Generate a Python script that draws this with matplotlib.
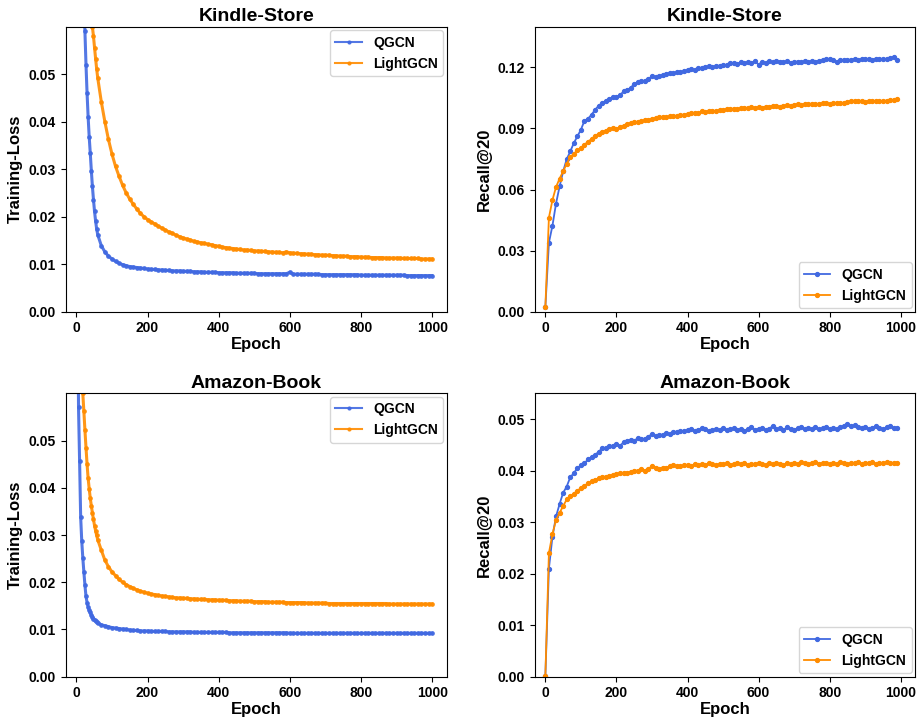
import numpy as np
import matplotlib
matplotlib.use("Agg")
import matplotlib.pyplot as plt

plt.rcParams["font.family"] = ["Liberation Sans", "DejaVu Sans"]
plt.rcParams["font.weight"] = "bold"
plt.rcParams["axes.labelweight"] = "bold"
plt.rcParams["axes.titleweight"] = "bold"

COLORS = {"QGCN": "#4169e1", "LightGCN": "#ff8c00"}

# ---------------------------------------------------------------------------
# Data
# ---------------------------------------------------------------------------

loss_epochs = np.r_[np.arange(0, 60, 3), np.arange(60, 1000, 10), 999]
recall_epochs = np.arange(0, 1000, 10)

kindle_loss_qgcn = [
    0.300, 0.220, 0.160, 0.125, 0.100, 0.085, 0.074, 0.066, 0.059, 0.052,
    0.046, 0.041, 0.0368, 0.0334, 0.0297, 0.0264, 0.0236, 0.0211, 0.0191, 0.0174,
    .0162, .0139, .0126, .0117, .0111, .0106, .0102, .0099, .0097, .0095,
    .0094, .0093, .0092, .0091, .0090, .0089, .0089, .0088, .0088, .0087,
    .0087, .0086, .0086, .0086, .0085, .0085, .0085, .0084, .0084, .0084,
    .0083, .0083, .0083, .0083, .0082, .0082, .0082, .0082, .0082, .0081,
    .0081, .0081, .0081, .0081, .0081, .0080, .0080, .0080, .0080, .0080,
    .0080, .0080, .0080, .0080, .0083, .0079, .0079, .0079, .0079, .0079,
    .0079, .0079, .0079, .0078, .0078, .0078, .0078, .0078, .0078, .0078,
    .0078, .0078, .0078, .0078, .0077, .0077, .0077, .0077, .0077, .0077,
    .0077, .0077, .0077, .0077, .0077, .0077, .0077, .0076, .0076, .0076,
    .0076, .0076, .0076, .0076, .0076,
]
kindle_loss_lightgcn = [
    0.250, 0.200, 0.165, 0.140, 0.120, 0.106, 0.096, 0.088, 0.082, 0.077,
    0.0725, 0.0690, 0.0660, 0.0635, 0.0615, 0.0600, 0.0580, 0.0556, 0.0533, 0.0511,
    .0492, .0442, .0400, .0363, .0332, .0306, .0285, .0266, .0250, .0237,
    .0226, .0216, .0207, .0200, .0194, .0189, .0185, .0180, .0176, .0172,
    .0168, .0165, .0161, .0158, .0155, .0153, .0151, .0148, .0147, .0145,
    .0144, .0142, .0141, .0139, .0138, .0136, .0135, .0134, .0133, .0132,
    .0131, .0130, .0130, .0129, .0128, .0128, .0127, .0127, .0126, .0126,
    .0125, .0125, .0124, .0126, .0124, .0123, .0123, .0122, .0122, .0121,
    .0121, .0120, .0120, .0119, .0119, .0119, .0118, .0118, .0117, .0117,
    .0117, .0116, .0116, .0116, .0115, .0115, .0115, .0114, .0114, .0114,
    .0114, .0113, .0113, .0113, .0113, .0113, .0112, .0112, .0112, .0112,
    .0112, .0111, .0111, .0111, .0111,
]
amazon_loss_qgcn = [
    0.200, 0.090, 0.057, 0.0457, 0.0338, 0.0288, 0.0252, 0.0222, 0.0194, 0.0170,
    0.0157, 0.0148, 0.0141, 0.0136, 0.0131, 0.0127, 0.0123, 0.0120, 0.0118, 0.0116,
    .0114, .0110, .0108, .0106, .0104, .0103, .0102, .0101, .0100, .0099,
    .0098, .0098, .0097, .0097, .0097, .0096, .0096, .0096, .0096, .0096,
    .0095, .0095, .0095, .0095, .0095, .0095, .0095, .0094, .0094, .0094,
    .0094, .0094, .0094, .0094, .0094, .0094, .0094, .0093, .0093, .0093,
    .0093, .0093, .0093, .0093, .0093, .0093, .0093, .0093, .0093, .0093,
    .0093, .0093, .0093, .0093, .0092, .0092, .0092, .0092, .0092, .0092,
    .0092, .0092, .0092, .0092, .0092, .0092, .0092, .0092, .0092, .0092,
    .0092, .0092, .0092, .0092, .0092, .0092, .0092, .0092, .0092, .0092,
    .0092, .0092, .0092, .0092, .0092, .0092, .0092, .0092, .0092, .0092,
    .0092, .0092, .0092, .0092, .0092,
]
amazon_loss_lightgcn = [
    0.300, 0.160, 0.110, 0.088, 0.075, 0.066, 0.0600, 0.0562, 0.0522, 0.0485,
    0.0450, 0.0420, 0.0398, 0.0378, 0.0362, 0.0347, 0.0333, 0.0320, 0.0309, 0.0299,
    .0290, .0268, .0247, .0233, .0222, .0214, .0206, .0200, .0195, .0191,
    .0187, .0184, .0181, .0179, .0177, .0175, .0174, .0172, .0171, .0170,
    .0169, .0168, .0167, .0167, .0166, .0166, .0165, .0165, .0164, .0164,
    .0164, .0163, .0163, .0163, .0162, .0162, .0162, .0161, .0161, .0161,
    .0160, .0160, .0160, .0160, .0159, .0159, .0159, .0159, .0158, .0158,
    .0158, .0158, .0158, .0157, .0157, .0157, .0157, .0157, .0157, .0156,
    .0156, .0156, .0156, .0156, .0156, .0155, .0155, .0155, .0155, .0155,
    .0155, .0155, .0155, .0155, .0155, .0155, .0155, .0155, .0155, .0155,
    .0155, .0155, .0154, .0154, .0154, .0154, .0154, .0154, .0154, .0154,
    .0154, .0154, .0154, .0154, .0154,
]

kindle_recall_qgcn = [
    .0022, .0339, .0423, .0531, .0615, .0689, .0749, .0787, .0828, .0861,
    .0894, .0938, .0948, .0968, .0992, .1012, .1025, .1036, .1045, .1053,
    .1055, .1064, .1082, .1090, .1099, .1120, .1127, .1131, .1135, .1143,
    .1156, .1151, .1156, .1164, .1169, .1173, .1171, .1176, .1178, .1181,
    .1186, .1190, .1188, .1197, .1195, .1201, .1205, .1200, .1207, .1208,
    .1212, .1210, .1222, .1220, .1216, .1225, .1221, .1226, .1222, .1230,
    .1214, .1228, .1222, .1230, .1226, .1232, .1229, .1227, .1230, .1224,
    .1226, .1229, .1226, .1230, .1225, .1232, .1228, .1233, .1236, .1242,
    .1240, .1236, .1226, .1238, .1236, .1237, .1238, .1241, .1236, .1240,
    .1239, .1243, .1238, .1241, .1239, .1240, .1241, .1245, .1253, .1238,
]
kindle_recall_lightgcn = [
    .0022, .0462, .0549, .0612, .0654, .0689, .0727, .0759, .0776, .0792,
    .0804, .0820, .0836, .0848, .0864, .0874, .0884, .0890, .0897, .0902,
    .0897, .0907, .0913, .0922, .0927, .0930, .0932, .0935, .0940, .0943,
    .0948, .0950, .0954, .0954, .0956, .0959, .0962, .0959, .0966, .0968,
    .0972, .0974, .0978, .0976, .0984, .0982, .0986, .0988, .0985, .0992,
    .0990, .0996, .0994, .0998, .0995, .1000, .1003, .0999, .1004, .1002,
    .1006, .1003, .1008, .1006, .1012, .1010, .1007, .1012, .1014, .1012,
    .1016, .1020, .1014, .1022, .1019, .1022, .1018, .1022, .1024, .1025,
    .1021, .1024, .1027, .1024, .1026, .1030, .1037, .1036, .1034, .1035,
    .1032, .1034, .1033, .1035, .1036, .1034, .1037, .1038, .1040, .1045,
]
amazon_recall_qgcn = [
    .0001, .0210, .0272, .0311, .0335, .0357, .0369, .0387, .0395, .0405,
    .0410, .0414, .0422, .0426, .0430, .0437, .0443, .0443, .0448, .0448,
    .0452, .0448, .0455, .0458, .0460, .0458, .0463, .0461, .0461, .0466,
    .0471, .0467, .0469, .0470, .0473, .0471, .0474, .0474, .0476, .0477,
    .0478, .0480, .0477, .0479, .0482, .0480, .0476, .0478, .0481, .0479,
    .0483, .0478, .0480, .0482, .0479, .0481, .0477, .0480, .0484, .0479,
    .0481, .0483, .0478, .0481, .0487, .0480, .0482, .0479, .0484, .0481,
    .0479, .0482, .0485, .0480, .0483, .0481, .0484, .0480, .0482, .0485,
    .0481, .0483, .0480, .0484, .0487, .0490, .0486, .0488, .0484, .0482,
    .0485, .0481, .0483, .0486, .0482, .0480, .0484, .0487, .0483, .0482,
]
amazon_recall_lightgcn = [
    .0001, .0240, .0277, .0304, .0318, .0331, .0344, .0350, .0355, .0361,
    .0366, .0370, .0376, .0379, .0382, .0385, .0388, .0388, .0390, .0392,
    .0394, .0395, .0395, .0396, .0398, .0400, .0400, .0403, .0400, .0404,
    .0408, .0406, .0404, .0406, .0406, .0408, .0411, .0408, .0408, .0410,
    .0411, .0409, .0412, .0410, .0413, .0411, .0414, .0412, .0410, .0413,
    .0412, .0414, .0411, .0413, .0415, .0412, .0414, .0411, .0413, .0412,
    .0415, .0413, .0411, .0414, .0412, .0414, .0413, .0411, .0414, .0412,
    .0415, .0413, .0417, .0414, .0412, .0415, .0416, .0413, .0415, .0414,
    .0412, .0415, .0413, .0416, .0414, .0412, .0415, .0414, .0416, .0413,
    .0415, .0414, .0416, .0413, .0415, .0414, .0416, .0415, .0414, .0415,
]

# ---------------------------------------------------------------------------
# Figure
# ---------------------------------------------------------------------------

fig = plt.figure(figsize=(9.23, 7.18), dpi=100)
ax_kl = fig.add_axes([0.0712, 0.5659, 0.4128, 0.3969])
ax_kr = fig.add_axes([0.5793, 0.5659, 0.4124, 0.3969])
ax_al = fig.add_axes([0.0712, 0.0575, 0.4128, 0.3947])
ax_ar = fig.add_axes([0.5793, 0.0575, 0.4124, 0.3947])


def style(ax, title):
    ax.set_xlim(-30, 1041)
    ax.set_xticks([0, 200, 400, 600, 800, 1000])
    ax.set_xlabel("Epoch", fontsize=12, labelpad=1)
    ax.set_title(title, fontsize=14, pad=4)
    ax.tick_params(labelsize=10)


def loss_panel(ax, title, qgcn, lightgcn):
    ax.plot(loss_epochs, qgcn, color=COLORS["QGCN"], lw=2.2, marker="o",
            markersize=2.4, alpha=0.9, label="QGCN")
    ax.plot(loss_epochs, lightgcn, color=COLORS["LightGCN"], lw=2.2, marker="o",
            markersize=2.4, alpha=0.9, label="LightGCN")
    ax.set_ylim(0, 0.06)
    ax.set_yticks([0, 0.01, 0.02, 0.03, 0.04, 0.05])
    ax.set_ylabel("Training-Loss", fontsize=12)
    leg = ax.legend(loc="upper right", fontsize=10, borderaxespad=0.25,
                    handlelength=1.9)
    for line in leg.get_lines():
        line.set_linewidth(1.5)
        line.set_markersize(2)
    style(ax, title)


def recall_panel(ax, title, qgcn, lightgcn, ymax, yticks):
    ax.plot(recall_epochs, qgcn, color=COLORS["QGCN"], lw=1.3, marker="o",
            markersize=2.8, label="QGCN")
    ax.plot(recall_epochs, lightgcn, color=COLORS["LightGCN"], lw=1.3, marker="o",
            markersize=2.8, label="LightGCN")
    ax.set_ylim(0, ymax)
    ax.set_yticks(yticks)
    ax.set_ylabel("Recall@20", fontsize=12)
    ax.legend(loc="lower right", fontsize=10, borderaxespad=0.25,
              handlelength=1.9)
    style(ax, title)


loss_panel(ax_kl, "Kindle-Store", kindle_loss_qgcn, kindle_loss_lightgcn)
recall_panel(ax_kr, "Kindle-Store", kindle_recall_qgcn, kindle_recall_lightgcn,
             0.14, [0, 0.03, 0.06, 0.09, 0.12])
loss_panel(ax_al, "Amazon-Book", amazon_loss_qgcn, amazon_loss_lightgcn)
recall_panel(ax_ar, "Amazon-Book", amazon_recall_qgcn, amazon_recall_lightgcn,
             0.055, [0, 0.01, 0.02, 0.03, 0.04, 0.05])

fig.savefig("out.png", dpi=100, facecolor="white")
